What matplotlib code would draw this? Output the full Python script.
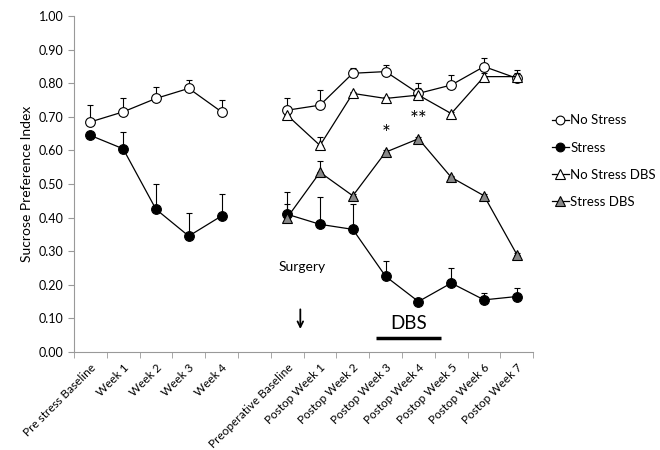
import numpy as np
import matplotlib.pyplot as plt
from matplotlib.transforms import ScaledTranslation

plt.rcParams['font.family'] = ['Lato', 'DejaVu Sans']

labels = ['Pre stress Baseline', 'Week 1', 'Week 2', 'Week 3', 'Week 4', '',
          'Preoperative Baseline', 'Postop Week 1', 'Postop Week 2', 'Postop Week 3',
          'Postop Week 4', 'Postop Week 5', 'Postop Week 6', 'Postop Week 7']

nan = np.nan
no_stress = [0.685, 0.715, 0.755, 0.785, 0.715, nan,
             0.72, 0.735, 0.83, 0.835, 0.77, 0.795, 0.85, 0.815]
no_stress_err = [0.05, 0.04, 0.035, 0.025, 0.035, nan,
                 0.035, 0.045, 0.015, 0.02, 0.03, 0.03, 0.025, 0.015]
stress = [0.645, 0.605, 0.425, 0.345, 0.405, nan,
          0.41, 0.38, 0.365, 0.225, 0.15, 0.205, 0.155, 0.165]
stress_err = [0.01, 0.05, 0.075, 0.07, 0.065, nan,
              0.065, 0.08, 0.075, 0.045, 0.005, 0.045, 0.02, 0.025]
no_stress_dbs = [nan, nan, nan, nan, nan, nan,
                 0.705, 0.615, 0.77, 0.755, 0.765, 0.71, 0.82, 0.82]
no_stress_dbs_err = [nan, nan, nan, nan, nan, nan,
                     0.01, 0.025, 0.005, 0.005, 0.02, 0.005, 0.01, 0.02]
stress_dbs = [nan, nan, nan, nan, nan, nan,
              0.40, 0.535, 0.465, 0.595, 0.635, 0.52, 0.465, 0.29]
stress_dbs_err = [nan, nan, nan, nan, nan, nan,
                  0.04, 0.035, 0.005, 0.005, 0.005, 0.005, 0.005, 0.005]

x = np.arange(len(labels))

fig = plt.figure(figsize=(6.6, 4.5), dpi=100)
ax = fig.add_axes([0.112, 0.218, 0.696, 0.746])

def series(vals, errs, marker, face, ms, label):
    vals = np.array(vals, dtype=float)
    errs = np.array(errs, dtype=float)
    ax.errorbar(x, vals, yerr=[np.zeros_like(errs), errs], fmt='none',
                ecolor='black', elinewidth=0.8, capsize=2, capthick=0.8, zorder=2)
    return ax.plot(x, vals, color='black', lw=0.9, marker=marker, ms=ms,
                   mfc=face, mec='black', mew=0.8, label=label, zorder=3)[0]

h1 = series(no_stress, no_stress_err, 'o', 'white', 7, 'No Stress')
h2 = series(stress, stress_err, 'o', 'black', 7, 'Stress')
h3 = series(no_stress_dbs, no_stress_dbs_err, '^', 'white', 7.5, 'No Stress DBS')
h4 = series(stress_dbs, stress_dbs_err, '^', '#888888', 7.5, 'Stress DBS')

ax.set_xlim(-0.5, len(labels) - 0.5)
ax.set_ylim(0, 1.0)
ax.set_yticks(np.arange(0, 1.01, 0.1))
ax.set_yticklabels([f'{v:.2f}' for v in np.arange(0, 1.01, 0.1)], fontsize=9)
ax.set_xticks(x)
ax.set_xticklabels(labels, rotation=45, ha='right', va='top', fontsize=8.5,
                   rotation_mode='anchor')
shift = ScaledTranslation(-4 / 100, 0, fig.dpi_scale_trans)
for t in ax.get_xticklabels():
    t.set_transform(t.get_transform() + shift)
ax.tick_params(axis='x', length=0, pad=7)
ax.set_xticks(np.arange(-0.5, len(labels)), minor=True)
ax.tick_params(axis='x', which='minor', length=4, color='#999999', direction='out')
ax.tick_params(axis='y', length=4, color='#999999', direction='out')
for s in ['top', 'right']:
    ax.spines[s].set_visible(False)
for s in ['left', 'bottom']:
    ax.spines[s].set_color('#999999')
ax.set_ylabel('Sucrose Preference Index', fontsize=10)

# annotations
ax.text(9, 0.62, '*', ha='center', va='bottom', fontsize=15)
ax.text(10, 0.66, '**', ha='center', va='bottom', fontsize=15)
ax.text(6.45, 0.252, 'Surgery', ha='center', va='center', fontsize=10)
ax.annotate('', xy=(6.4, 0.06), xytext=(6.4, 0.135),
            arrowprops=dict(arrowstyle='->', color='black', lw=1.3))
ax.text(9.7, 0.085, 'DBS', ha='center', va='center', fontsize=13.5)
ax.plot([8.7, 10.7], [0.04, 0.04], color='black', lw=2.5, solid_capstyle='butt')

fig.legend(handles=[h1, h2, h3, h4], loc='upper left', bbox_to_anchor=(0.818, 0.772),
           frameon=False, fontsize=9.5, handlelength=1.3, handletextpad=0.1,
           labelspacing=1.15, markerscale=0.9)

fig.savefig('out.png', dpi=100)
